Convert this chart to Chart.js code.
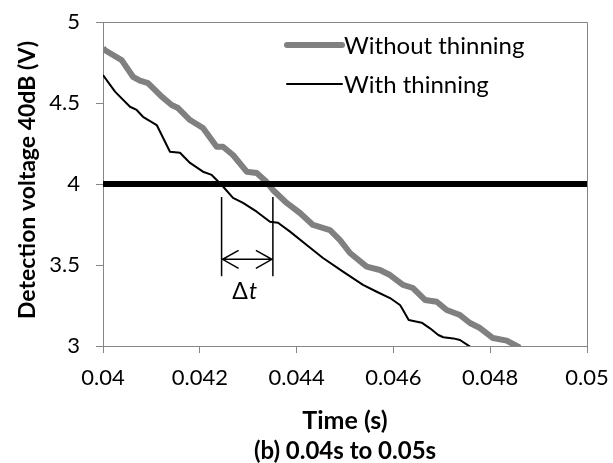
<!DOCTYPE html>
<html>
<head>
<meta charset="utf-8">
<script src="https://cdn.jsdelivr.net/npm/chart.js@4/dist/chart.umd.min.js"></script>
<style>
html,body{margin:0;padding:0;background:#fff;}
#wrap{width:613px;height:463px;position:relative;}
</style>
</head>
<body>
<div id="wrap"><canvas id="c" width="613" height="463"></canvas></div>
<script>
// ---- data ----
const timeWithout = [0.04000,0.040035,0.040207,0.040386,0.040620,0.040764,0.040930,0.041213,0.041419,0.041550,0.041798,0.042066,0.042349,0.042479,0.042686,0.042969,0.043176,0.043382,0.043512,0.043795,0.044070,0.044339,0.044690,0.044897,0.045103,0.045448,0.045723,0.045930,0.046198,0.046405,0.046653,0.046895,0.047101,0.047376,0.047583,0.047789,0.048058,0.048341,0.048548,0.048616];
const voltWithout = [4.84,4.827,4.796,4.765,4.662,4.638,4.623,4.539,4.488,4.469,4.395,4.346,4.230,4.230,4.179,4.076,4.068,4.012,3.963,3.883,3.821,3.747,3.716,3.654,3.574,3.490,3.469,3.438,3.377,3.358,3.284,3.273,3.222,3.191,3.142,3.111,3.049,3.033,3.000,2.99];
const timeWith = [0.04000,0.040248,0.040558,0.040696,0.040826,0.041110,0.041384,0.041591,0.041798,0.042066,0.042246,0.042452,0.042686,0.042893,0.043176,0.043450,0.043616,0.043864,0.044209,0.044545,0.044959,0.045372,0.045655,0.045930,0.046136,0.046178,0.046316,0.046585,0.046756,0.046928,0.047031,0.047238,0.047376,0.047583,0.04762];
const voltWith = [4.673,4.570,4.477,4.457,4.415,4.364,4.199,4.193,4.130,4.076,4.056,3.994,3.914,3.883,3.829,3.767,3.761,3.706,3.623,3.543,3.459,3.377,3.335,3.296,3.253,3.233,3.160,3.144,3.109,3.068,3.054,3.047,3.037,2.996,2.98];
const thresholdTime = [0.04, 0.05];
const thresholdVolt = [4, 4];
const seriesNames = ['Without thinning', 'With thinning'];
const deltaTimes = [0.04245, 0.04351];   // Δt bracket ends
const bracketVolts = [3.92, 3.43];       // vertical extent of bracket lines
const arrowVolt = 3.535;
const deltaLabelVolt = 3.335;
const xTitle = 'Time (s)';
const subTitle = '(b) 0.04s to 0.05s';
const yTitle = 'Detection voltage 40dB (V)';

const FONT = 'Lato, "Open Sans", sans-serif';
const GREY = '#808080';
const AXIS = '#868686';

function pts(xs, ys){ return xs.map((x,i)=>({x:x, y:ys[i]})); }

const extras = {
  id: 'extras',
  afterDatasetsDraw(chart){
    const ctx = chart.ctx, xs = chart.scales.x, ys = chart.scales.y;
    const a = chart.chartArea;
    ctx.save();
    // frame top & right
    ctx.strokeStyle = AXIS; ctx.lineWidth = 1;
    ctx.beginPath();
    ctx.moveTo(a.left, a.top + 0.5); ctx.lineTo(a.right + 0.5, a.top + 0.5);
    ctx.lineTo(a.right + 0.5, a.bottom);
    ctx.stroke();
    // Δt bracket
    const x1 = xs.getPixelForValue(deltaTimes[0]);
    const x2 = xs.getPixelForValue(deltaTimes[1]);
    const yt = ys.getPixelForValue(bracketVolts[0]);
    const yb = ys.getPixelForValue(bracketVolts[1]);
    const ya = ys.getPixelForValue(arrowVolt);
    ctx.strokeStyle = '#000'; ctx.lineWidth = 1.5;
    ctx.beginPath();
    ctx.moveTo(x1, yt); ctx.lineTo(x1, yb);
    ctx.moveTo(x2, yt); ctx.lineTo(x2, yb);
    ctx.moveTo(x1, ya); ctx.lineTo(x2, ya);
    ctx.moveTo(x1 + 17, ya - 9); ctx.lineTo(x1 + 1, ya); ctx.lineTo(x1 + 17, ya + 9);
    ctx.moveTo(x2 - 17, ya - 9); ctx.lineTo(x2 - 1, ya); ctx.lineTo(x2 - 17, ya + 9);
    ctx.stroke();
    // Δt label
    const yl = ys.getPixelForValue(deltaLabelVolt);
    ctx.fillStyle = '#000';
    ctx.textBaseline = 'middle';
    ctx.font = '23px ' + FONT;
    const w1 = ctx.measureText('Δ').width;
    ctx.font = 'italic 23px ' + FONT;
    const w2 = ctx.measureText('t').width;
    const cx = (x1 + x2) / 2 - 3;
    let sx = cx - (w1 + w2) / 2;
    ctx.font = '23px ' + FONT; ctx.textAlign = 'left';
    ctx.fillText('Δ', sx, yl);
    ctx.font = 'italic 23px ' + FONT;
    ctx.fillText('t', sx + w1 + 1, yl);
    ctx.restore();
  },
  afterDraw(chart){
    const ctx = chart.ctx, a = chart.chartArea;
    const ds = chart.data.datasets;
    ctx.save();
    // legend
    const lx0 = 287, lx1 = 342, rows = [45, 84];
    [1, 2].forEach((di, r) => {
      const d = ds[di];
      ctx.strokeStyle = d.borderColor; ctx.lineWidth = d.borderWidth; ctx.lineCap = 'round';
      ctx.beginPath(); ctx.moveTo(lx0, rows[r]); ctx.lineTo(lx1, rows[r]); ctx.stroke();
      ctx.fillStyle = '#000'; ctx.font = '24px ' + FONT;
      ctx.textAlign = 'left'; ctx.textBaseline = 'middle';
      ctx.fillText(d.label, lx1 + 2, rows[r] + 1);
    });
    // axis titles
    const cx = (a.left + a.right) / 2;
    ctx.fillStyle = '#000'; ctx.textAlign = 'center'; ctx.textBaseline = 'middle';
    ctx.font = 'bold 25px ' + FONT;
    ctx.fillText(xTitle, cx, 421);
    ctx.font = 'bold 24px ' + FONT;
    ctx.fillText(subTitle, cx, 451);
    ctx.font = 'bold 23px ' + FONT;
    ctx.translate(28, (a.top + a.bottom) / 2 - 4);
    ctx.rotate(-Math.PI / 2);
    ctx.fillText(yTitle, 0, 0);
    ctx.restore();
  }
};

new Chart(document.getElementById('c'), {
  type: 'line',
  data: {
    datasets: [
      { label: 'threshold', data: pts(thresholdTime, thresholdVolt), borderColor: '#000', borderWidth: 6, pointRadius: 0, order: 0 },
      { label: seriesNames[0], data: pts(timeWithout, voltWithout), borderColor: GREY, borderWidth: 6, pointRadius: 0, tension: 0, borderJoinStyle: 'round', order: 2 },
      { label: seriesNames[1], data: pts(timeWith, voltWith), borderColor: '#000', borderWidth: 2, pointRadius: 0, tension: 0, borderJoinStyle: 'round', order: 1 }
    ]
  },
  options: {
    responsive: false,
    animation: false,
    devicePixelRatio: 1,
    layout: { padding: { left: 0, right: 26, top: 22, bottom: 0 } },
    plugins: { legend: { display: false }, tooltip: { enabled: false }, title: { display: false } },
    scales: {
      x: {
        type: 'linear', min: 0.04, max: 0.05,
        afterFit(s){ s.height = 117; s.paddingLeft = 0; s.paddingRight = 0; },
        ticks: { stepSize: 0.002, color: '#000', padding: 12, font: { family: FONT, size: 22 },
                 callback: v => String(parseFloat(v.toFixed(3))) },
        grid: { drawOnChartArea: false, drawTicks: true, tickLength: 7, color: AXIS },
        border: { display: true, color: AXIS, width: 1 }
      },
      y: {
        type: 'linear', min: 3, max: 5,
        afterFit(s){ s.width = 103; s.paddingTop = 0; s.paddingBottom = 0; },
        ticks: { stepSize: 0.5, color: '#000', padding: 16, font: { family: FONT, size: 22 },
                 callback: v => String(parseFloat(v.toFixed(1))) },
        grid: { drawOnChartArea: false, drawTicks: true, tickLength: 7, color: AXIS },
        border: { display: true, color: AXIS, width: 1 }
      }
    }
  },
  plugins: [extras]
});
</script>
</body>
</html>
